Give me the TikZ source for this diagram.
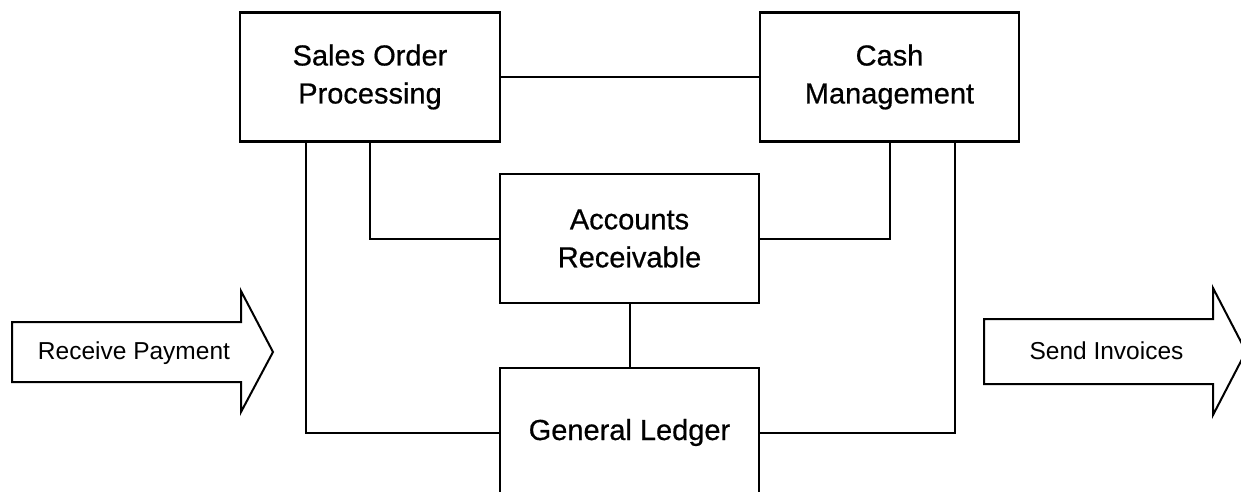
\documentclass[tikz,border=0pt]{standalone}
\usepackage{fontspec}
\setmainfont{Liberation Sans}
\newfontfamily\boxfont[FakeBold=0.6]{Liberation Sans}
\begin{document}
\begin{tikzpicture}[x=1pt,y=-1pt,
  box/.style={draw, line width=2.6pt, minimum width=259pt, minimum height=129pt,
    inner sep=0pt, align=center, font=\boxfont\fontsize{29}{38}\selectfont},
  link/.style={line width=2pt},
  flow/.style={draw, line width=2pt, line join=miter},
  flowtext/.style={font=\fontsize{24.5}{29}\selectfont, anchor=base, inner sep=0pt}]
\fill[white] (0,0) rectangle (1241,492);
\clip (0,0) rectangle (1241,492);
% boxes
\node[box, minimum width=260pt] (sop) at (370,77) {Sales Order\\Processing};
\node[box] (cash) at (889.5,77) {Cash\\Management};
\node[box] (ar) at (629.5,238.5) {Accounts\\Receivable};
\node[box] (gl) at (629.5,432.5) {General Ledger};
% connectors
\draw[link] (sop.east) -- (cash.west);
\draw[link] ([xshift=-64pt]sop.south) |- (gl.west);
\draw[link] (sop.south) |- (ar.west);
\draw[link] (cash.south) |- (ar.east);
\draw[link] ([xshift=65.5pt]cash.south) |- (gl.east);
\draw[link] (ar.south) -- (gl.north);
% flow arrows
\draw[flow] (12,322) -- (241,322) -- (241,291) -- (273,352) -- (241,412) -- (241,382) -- (12,382) -- cycle;
\node[flowtext] (recv) at (134,359) {Receive Payment};
\draw[flow] (984,319) -- (1213,319) -- (1213,288) -- (1246,351.5) -- (1213,415) -- (1213,384) -- (984,384) -- cycle;
\node[flowtext] (send) at (1106.5,359) {Send Invoices};
\end{tikzpicture}
\end{document}
